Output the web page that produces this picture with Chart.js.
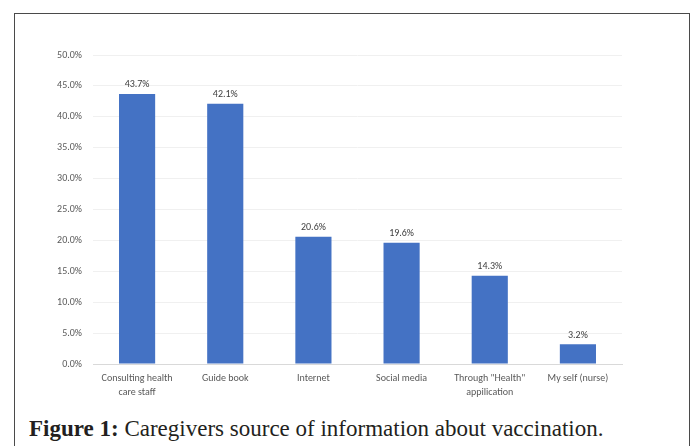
<!DOCTYPE html>
<html>
<head>
<meta charset="utf-8">
<script src="https://cdn.jsdelivr.net/npm/chart.js@4/dist/chart.umd.min.js"></script>
<style>
  html, body { margin: 0; padding: 0; background: #fff; width: 696px; height: 446px; overflow: hidden; }
  #frame {
    position: absolute; left: 14px; top: 13px; width: 676px; height: 450px;
    border: 1px solid #4a4a4a; box-sizing: border-box;
  }
  #wrap { position: absolute; left: 0; top: 0; width: 696px; height: 400px; }
  #caption {
    position: absolute; left: 29px; top: 416px; margin: 0;
    font-family: "Liberation Serif", "DejaVu Serif", serif; font-size: 23px;
    color: #231f20; white-space: nowrap; line-height: 26px;
  }
</style>
</head>
<body>
<div id="frame"></div>
<div id="wrap"><canvas id="chart"></canvas></div>
<p id="caption"><b>Figure 1:</b> Caregivers source of information about vaccination.</p>
<script>
// chart values
const sources = [
  ["Consulting health", "care staff"],
  "Guide book",
  "Internet",
  "Social media",
  ["Through \"Health\"", "appilication"],
  "My self (nurse)"
];
const percents = [43.7, 42.1, 20.6, 19.6, 14.3, 3.2];
const yTicks = [0, 5, 10, 15, 20, 25, 30, 35, 40, 45, 50];

const fontFamily = "Calibri, Carlito, 'Liberation Sans', Arial, sans-serif";
const axisFont = { family: fontFamily, size: 10, lineHeight: 1.4 };

// value labels above each bar
const barLabels = {
  id: 'barLabels',
  afterDatasetsDraw(chart) {
    const ctx = chart.ctx;
    const meta = chart.getDatasetMeta(0);
    ctx.save();
    ctx.font = '10px ' + fontFamily;
    ctx.fillStyle = '#404040';
    ctx.textAlign = 'center';
    ctx.textBaseline = 'middle';
    meta.data.forEach((bar, i) => {
      ctx.fillText(percents[i].toFixed(1) + '%', bar.x, bar.y - 9);
    });
    ctx.restore();
  }
};

new Chart(document.getElementById('chart'), {
  type: 'bar',
  data: {
    labels: sources,
    datasets: [{
      data: percents,
      backgroundColor: '#4472c4',
      categoryPercentage: 1,
      barPercentage: 0.41
    }]
  },
  options: {
    responsive: true,
    maintainAspectRatio: false,
    animation: false,
    layout: { padding: { top: 55, right: 74, left: 0, bottom: 0 } },
    plugins: { legend: { display: false }, tooltip: { enabled: false } },
    scales: {
      x: {
        grid: { display: false, drawTicks: false },
        border: { color: '#d9d9d9', width: 1 },
        ticks: { color: '#595959', font: axisFont, padding: 7, maxRotation: 0 },
        afterFit(scale) { scale.height = 36; }
      },
      y: {
        min: 0,
        max: 50,
        afterBuildTicks(scale) { scale.ticks = yTicks.map(v => ({ value: v })); },
        grid: { color: '#f0f0f0', drawTicks: false },
        border: { display: false },
        ticks: {
          color: '#595959', font: { family: fontFamily, size: 10 }, padding: 11,
          callback: v => v.toFixed(1) + '%'
        },
        afterFit(scale) { scale.width = 93; }
      }
    }
  },
  plugins: [barLabels]
});
</script>
</body>
</html>
